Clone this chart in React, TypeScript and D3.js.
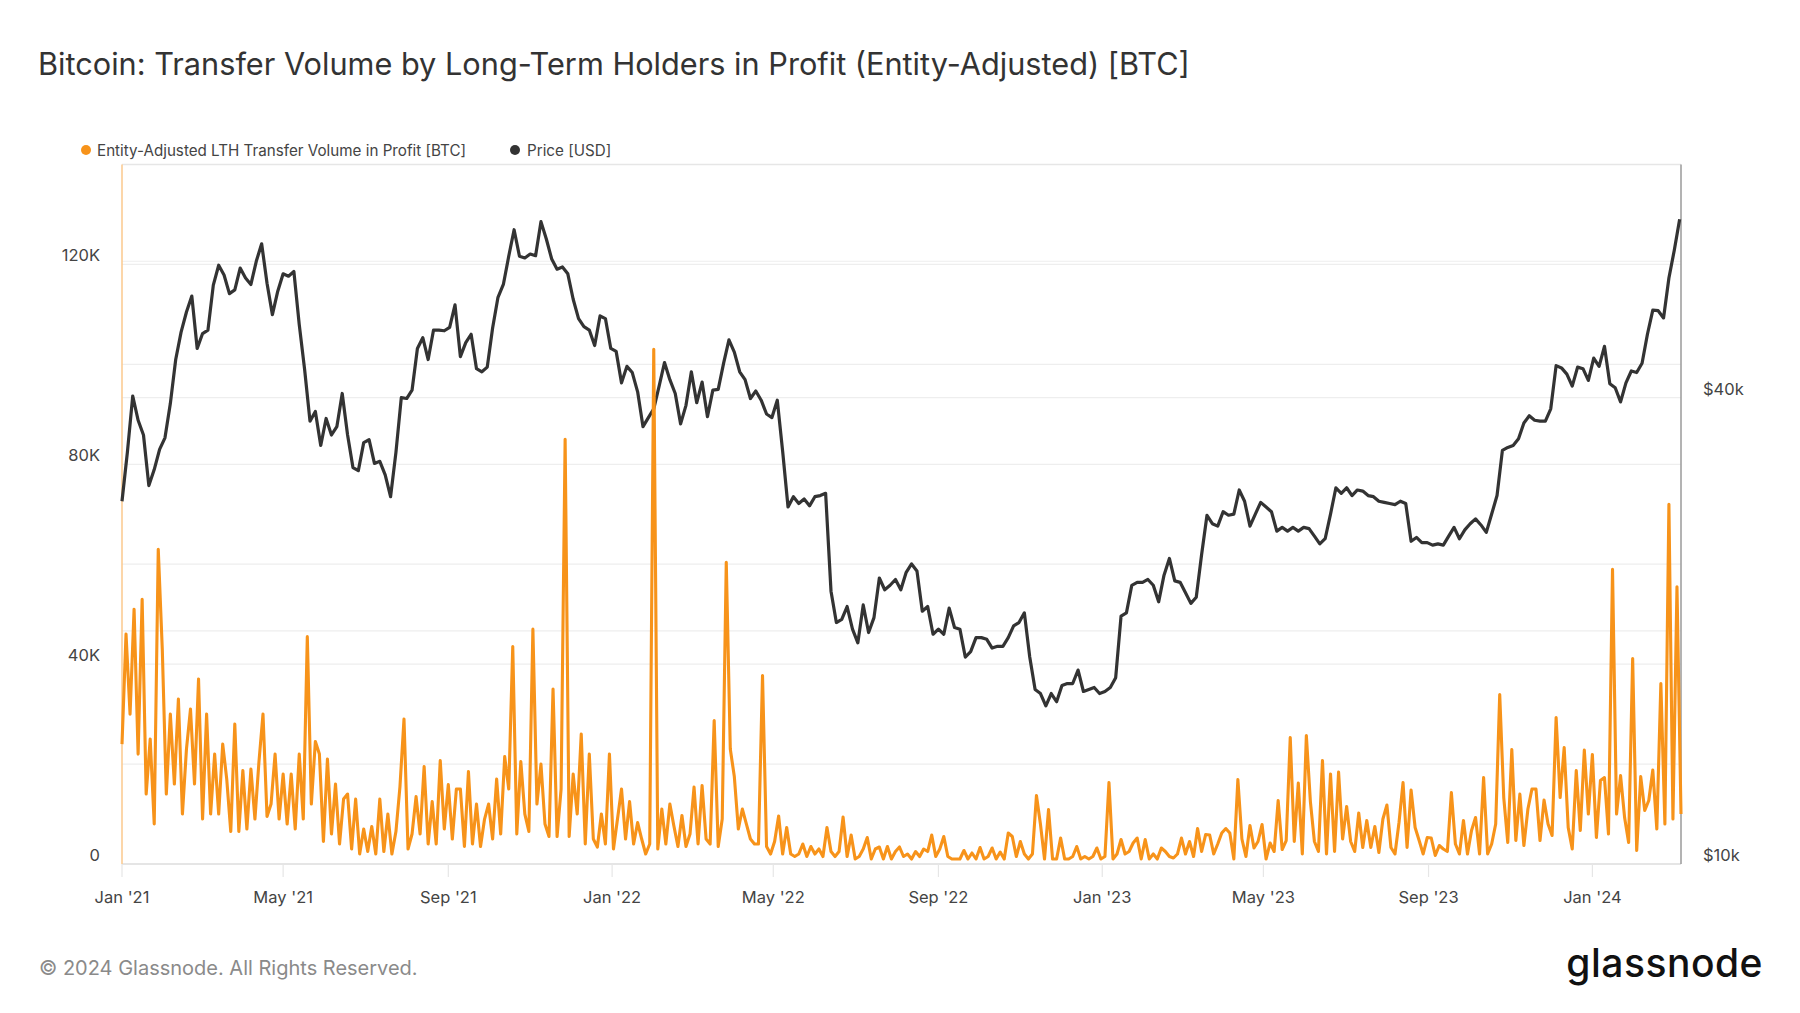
import * as d3 from 'd3';

const TITLE = 'Bitcoin: Transfer Volume by Long-Term Holders in Profit (Entity-Adjusted) [BTC]';
const VOLUME_LABEL = 'Entity-Adjusted LTH Transfer Volume in Profit [BTC]';
const PRICE_LABEL = 'Price [USD]';
const COPYRIGHT = '\u00a9 2024 Glassnode. All Rights Reserved.';

// both series start on 1 Jan 2021 and are sampled at a fixed number of days
const SERIES_START = '2021-01-01';
const PRICE_STEP_DAYS = 4;
const VOLUME_STEP_DAYS = 3;

// BTC price, thousands of USD
const price2021 = [
  29.4, 34.0, 40.2, 37.4, 35.8, 30.8, 32.3, 34.3,
  35.5, 39.3, 44.8, 48.6, 51.6, 54.1, 46.3,
  48.4, 48.9, 55.9, 59.3, 57.6, 54.5, 55.1, 58.8,
  57.1, 56.0, 60.0, 63.2, 56.2, 51.2, 54.9,
  57.8, 57.4, 58.2, 49.7, 43.5, 37.3, 38.4, 34.7,
  37.6, 35.8, 36.7, 40.5, 35.8, 32.5, 32.2, 35.0,
  35.3, 32.9, 33.1, 31.8, 29.8, 34.0, 40.0,
  39.9, 40.9, 46.3, 47.8, 44.8, 48.9, 48.9, 48.8,
  49.3, 52.7, 45.2, 47.1, 48.3, 43.6, 43.2, 43.8,
  49.2, 53.9, 56.0, 60.9, 65.9, 60.9, 60.6,
  61.3, 61.0, 67.5, 64.1, 60.4, 58.6, 59.0, 57.8,
  53.6, 50.6, 49.4, 48.9, 46.7, 51.0, 50.6, 46.3,
];
const price2022 = [
  45.9, 41.8, 43.9, 43.1, 40.7, 36.7, 37.7,
  38.7, 41.4, 44.4, 42.2, 40.5, 37.0, 39.1,
  43.2, 39.4, 41.9, 37.8, 40.9, 41.0, 44.3, 47.5,
  45.8, 43.2, 42.2, 39.9, 40.8, 39.7, 38.1, 37.7,
  39.7, 34.1, 28.9, 29.8, 29.2, 29.6, 29.0,
  29.8, 29.9, 30.1, 22.5, 20.5, 20.7, 21.5, 20.1,
  19.3, 21.6, 19.9, 20.8, 23.4, 22.6, 22.9, 23.3,
  22.6, 23.8, 24.4, 23.9, 21.2, 21.5, 19.8,
  20.1, 19.8, 21.4, 20.2, 20.1, 18.5, 18.8, 19.6,
  19.6, 19.5, 19.0, 19.1, 19.1, 19.6, 20.3, 20.5,
  21.1, 18.5, 16.8, 16.6, 16.0, 16.6, 16.2,
  17.0, 17.1, 17.1, 17.8, 16.7, 16.8, 16.9, 16.6,
];
const price2023 = [
  16.7, 16.9, 17.4, 20.9, 21.1, 22.9, 23.1, 23.1,
  23.3, 22.9, 21.8, 23.6, 24.8, 23.2, 23.1,
  22.4, 21.7, 22.1, 25.1, 28.2, 27.5, 27.3,
  28.5, 28.2, 28.3, 30.4, 29.4, 27.3, 28.3, 29.3,
  28.9, 28.5, 26.9, 27.2, 26.9, 27.2, 26.9, 27.2,
  27.1, 26.5, 25.9, 26.3, 28.3, 30.6, 30.1,
  30.6, 29.9, 30.4, 30.3, 29.9, 29.8, 29.4, 29.3,
  29.2, 29.1, 29.4, 29.2, 26.1, 26.4, 26.0, 26.0,
  25.8, 25.9, 25.8, 26.5, 27.2, 26.3, 27.0,
  27.5, 27.9, 27.4, 26.8, 28.3, 29.9, 34.2, 34.5,
  34.7, 35.4, 37.1, 37.9, 37.4, 37.3, 37.3,
  38.7, 44.0, 43.7, 42.9, 41.4, 43.8, 43.6, 42.1,
];
const price2024 = [
  45.0, 43.9, 46.6, 41.7, 41.2, 39.5, 41.8, 43.3,
  43.1, 44.3, 48.3, 51.9, 51.8, 50.7, 57.1,
  62.0, 68.0,
];

// LTH transfer volume in profit, thousands of BTC
const volume2021 = [
  24, 46, 30, 51, 22, 53, 14, 25, 8, 63,
  43, 14, 30, 16, 33, 10, 23, 31, 16, 37,
  9, 30, 10, 22, 10, 24, 17, 6.5, 28, 6.5,
  18.7, 7, 19, 9, 20.5, 30, 9.5, 12, 22, 9,
  18, 8, 18, 7, 22, 9, 45.5, 12, 24.5, 22,
  4.5, 21, 6, 16, 4, 13, 14, 3, 13, 2,
  7, 2.5, 7.5, 2, 13, 2.5, 10, 2, 6.5, 15.5,
  29, 3, 6, 13.5, 6, 19.5, 4, 12.5, 4, 20.7,
  7, 15.9, 5, 15, 15, 3.5, 18.5, 4, 12, 3.5,
  9, 12, 5, 17, 6, 21.5, 15, 43.5, 6, 20.5,
  10, 6.5, 47, 12,
];
const volume2022 = [
  20, 8, 5.5, 35, 5.5, 15, 85, 5.5, 18, 10,
  26, 4, 22, 5, 3.4, 10, 4, 22, 3, 9,
  15, 5, 12.5, 4, 8.3, 5, 2, 4, 103, 3,
  11, 4, 12, 7.6, 3.5, 9.7, 3.5, 6, 15.4, 4,
  15.7, 5, 4, 28.7, 3.5, 9, 60.4, 23, 17.5, 7,
  11, 8, 5, 4, 4, 37.7, 3.5, 2, 4.5, 9.6,
  2, 7.3, 2, 1.5, 2, 4, 1.5, 3.5, 2, 3,
  1.5, 7.3, 2.5, 1.5, 2.5, 9.4, 1.5, 5.8, 1, 1.5,
  3, 5.3, 1, 3, 3.4, 1, 3.5, 1, 2.5, 3.4,
  1.5, 2, 1, 2.5, 1.5, 3, 2.5, 5.8, 1.5,
];
const volume2023 = [
  3, 5.5, 1.5, 1, 1, 1, 2.7, 1, 2.2, 1,
  3.3, 1, 1.5, 3.2, 1, 2.4, 1, 6.2, 5.5, 1.5,
  4.5, 2, 1, 2, 13.7, 7.9, 1, 10.9, 1, 1,
  5.2, 1, 1, 1.5, 3.5, 1, 1.5, 1, 1.5, 3.2,
  1, 1.5, 16.3, 1, 2, 4.9, 2, 2.5, 4.2, 5.2,
  1, 4.9, 1, 2, 1, 3.2, 2.5, 1.5, 1.2, 2,
  5.2, 2, 4.5, 1.5, 7.1, 2.5, 5.9, 5.8, 2, 4,
  6.2, 7.1, 6.2, 1, 16.9, 5, 1.5, 7.7, 3.2, 4.5,
  7.9, 1, 4.2, 2.5, 12.7, 2.9, 4.7, 25.3, 4.5, 16.2,
  2, 25.7, 12.5, 4.5, 2.5, 20.7, 2, 18, 2.5, 18.4,
  5, 11.5, 4.5, 2.5, 10.2, 3.3, 8.7, 3.3, 7.5, 2.3,
  9, 11.8, 3.3, 2, 8.3, 16.3, 3.3, 14.8, 7.3, 4.7,
  2, 5.3, 5.2, 1.7, 3.7, 3, 2.5, 14.3, 4, 2,
  8.7, 2, 6.7, 9.3, 2, 17.3, 2, 4, 8, 33.9,
  13.3, 4.3, 22.9, 4.7, 14, 3.7, 11, 15, 15, 4.7,
  12.8, 8, 5.7, 29.3, 13.3, 23.3, 7.3, 3, 18.7, 6.7,
  22.8, 10, 21.9, 5.3, 16.7, 17.3, 6, 59, 10, 17.7,
  9.3, 4.3, 41.1, 2.7, 17.5, 10.7, 12.7, 18.8, 7, 36.1,
  8, 72, 9, 55.5, 10,
];

const volumeTicks = [0, 40, 80, 120];
const volumeGrid = [20, 40, 60, 80, 100, 120];
const volumeMax = 140;
const priceTicks = [10, 40];
const priceGrid = [20, 40, 60];
const priceDomain = [10, 80];

const ORANGE = '#f7931a';
const DARK = '#333333';
const FONT = "Inter, 'Noto Sans', sans-serif";

const plot = { left: 122, right: 1681, top: 164.5, bottom: 864 };

const DAY_MS = 86400000;
const startMs = Date.parse(SERIES_START + 'T00:00:00Z');

type Pt = { date: Date; value: number };

const toSeries = (values: number[], step: number): Pt[] =>
  values.map((v, i) => ({ date: new Date(startMs + i * step * DAY_MS), value: v }));

const priceData = toSeries([...price2021, ...price2022, ...price2023, ...price2024], PRICE_STEP_DAYS);
const volumeData = toSeries([...volume2021, ...volume2022, ...volume2023], VOLUME_STEP_DAYS);

export default function App() {
  const lastDate = d3.max([priceData[priceData.length - 1].date, volumeData[volumeData.length - 1].date])!;

  const x = d3.scaleUtc().domain([new Date(startMs), lastDate]).range([plot.left, plot.right]);
  const yVol = d3.scaleLinear().domain([0, volumeMax]).range([plot.bottom, plot.top]);
  const yPrice = d3.scaleLog().domain(priceDomain).range([plot.bottom, plot.top]);

  const volumeLine = d3.line<Pt>().x(d => x(d.date)).y(d => yVol(d.value));
  const priceLine = d3.line<Pt>().x(d => x(d.date)).y(d => yPrice(d.value));

  const xTicks = x.ticks(d3.utcMonth.every(4)!);
  const fmt = d3.utcFormat("%b '%y");

  return (
    <div style={{ position: 'absolute', left: 0, top: 0 }}>
      <svg width={1800} height={1013} style={{ display: 'block', background: '#fff' }} fontFamily={FONT}>
        <text x={38} y={75} fontSize={30.7} fill={DARK} fontWeight={400}>{TITLE}</text>

        {/* legend */}
        <circle cx={86} cy={150} r={5} fill={ORANGE} />
        <text x={97} y={155.5} fontSize={15.2} fill="#444">{VOLUME_LABEL}</text>
        <circle cx={515} cy={150} r={5} fill={DARK} />
        <text x={527} y={155.5} fontSize={15.2} fill="#444">{PRICE_LABEL}</text>

        {/* gridlines */}
        <line x1={plot.left} x2={plot.right} y1={plot.top} y2={plot.top} stroke="#e6e6e6" strokeWidth={1.5} />
        {volumeGrid.map(v => (
          <line key={'gv' + v} x1={plot.left} x2={plot.right} y1={yVol(v)} y2={yVol(v)} stroke="#eeeeee" strokeWidth={1.2} />
        ))}
        {priceGrid.map(v => (
          <line key={'gp' + v} x1={plot.left} x2={plot.right} y1={yPrice(v)} y2={yPrice(v)} stroke="#eeeeee" strokeWidth={1.2} />
        ))}

        {/* x axis */}
        <line x1={plot.left} x2={plot.right} y1={plot.bottom} y2={plot.bottom} stroke="#dddddd" strokeWidth={1.5} />
        {xTicks.map(t => (
          <g key={t.getTime()}>
            <line x1={x(t)} x2={x(t)} y1={plot.bottom} y2={plot.bottom + 13} stroke="#e6e6e6" strokeWidth={1.2} />
            <text x={x(t)} y={903} fontSize={16.5} fill="#444" textAnchor="middle">{fmt(t)}</text>
          </g>
        ))}

        {/* left axis */}
        <line x1={plot.left} x2={plot.left} y1={plot.top} y2={plot.bottom} stroke="#fbc98c" strokeWidth={1.5} />
        {volumeTicks.map(v => (
          <text key={'lv' + v} x={100} y={yVol(v) - 3} fontSize={16.5} fill="#444" textAnchor="end">
            {v === 0 ? '0' : `${v}K`}
          </text>
        ))}

        {/* right axis */}
        <line x1={plot.right} x2={plot.right} y1={plot.top} y2={plot.bottom} stroke="#9a9a9a" strokeWidth={1.5} />
        {priceTicks.map(v => (
          <text key={'rp' + v} x={1703} y={yPrice(v) - 3} fontSize={16.5} fill="#444">{`$${v}k`}</text>
        ))}

        {/* series */}
        <path d={priceLine(priceData)!} fill="none" stroke={DARK} strokeWidth={3.2} strokeLinejoin="round" />
        <path d={volumeLine(volumeData)!} fill="none" stroke={ORANGE} strokeWidth={3.1} strokeLinejoin="round" />

        {/* footer */}
        <text x={39} y={975} fontSize={20} fill="#8a8a8a">{COPYRIGHT}</text>
        <text x={1763} y={977} fontSize={39} fill="#111" fontWeight={500} textAnchor="end" letterSpacing={0.5}>glassnode</text>
      </svg>
    </div>
  );
}
